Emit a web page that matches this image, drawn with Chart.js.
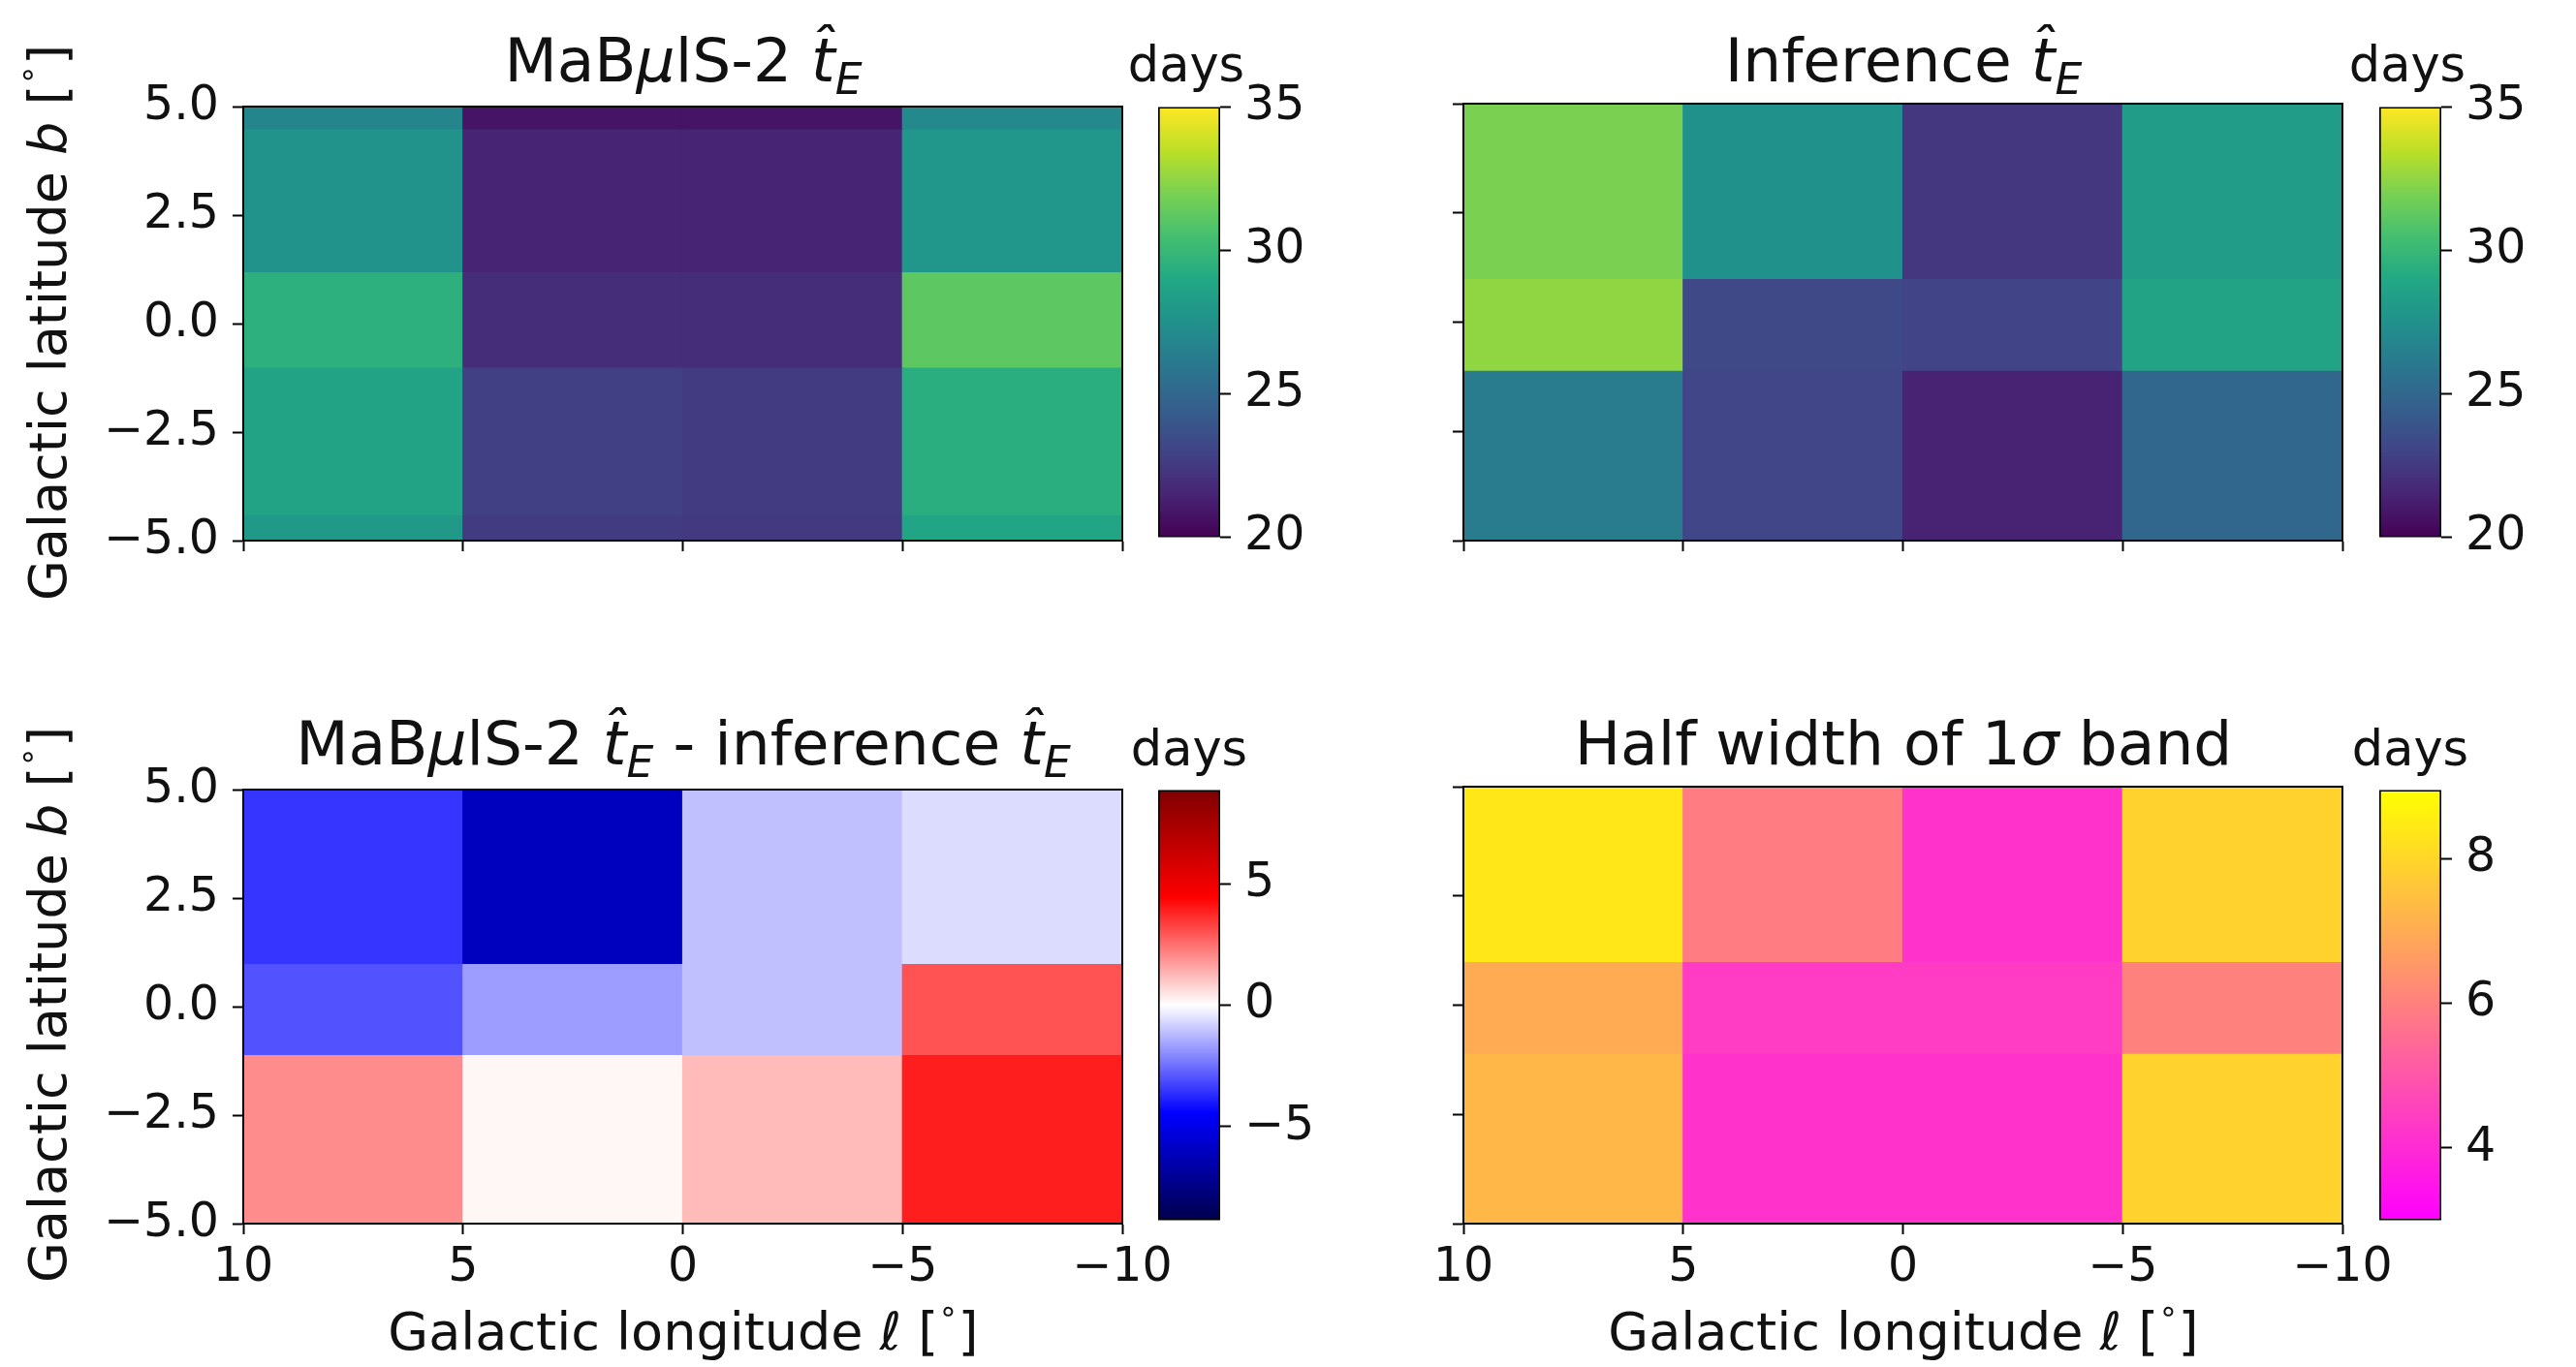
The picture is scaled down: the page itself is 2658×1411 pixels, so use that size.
<!DOCTYPE html>
<html>
<head>
<meta charset="utf-8">
<title>MaBμlS-2 vs inference t_E maps</title>
<script src="https://cdn.jsdelivr.net/npm/chart.js@4.4.1/dist/chart.umd.min.js"></script>
<style>
  body { margin: 0; background: #fff; }
  #fig { position: relative; width: 2658px; height: 1411px; background: #fff; overflow: hidden;
         font-family: "DejaVu Sans", sans-serif; color: #111; }
  #fig canvas { position: absolute; }
  .txt { position: absolute; white-space: nowrap; line-height: 1; transform: translate(-50%, -50%); }
  .title { font-size: 63px; }
  .lab { font-size: 54px; }
  .days { font-size: 51px; }
  .rot { transform: translate(-50%, -50%) rotate(-90deg); }
  .txt sub { font-size: 0.7em; vertical-align: -0.3em; line-height: 0; }
  .txt sup { font-size: 0.6em; vertical-align: 0.9em; line-height: 0; }
</style>
</head>
<body>
<div id="fig">
  <canvas id="hmTL"></canvas><canvas id="cbTL"></canvas>
  <canvas id="hmTR"></canvas><canvas id="cbTR"></canvas>
  <canvas id="hmBL"></canvas><canvas id="cbBL"></canvas>
  <canvas id="hmBR"></canvas><canvas id="cbBR"></canvas>

  <div class="txt title" style="left:705px;top:62px">MaB<i>μ</i>lS-2 <i>t&#770;</i><sub><i>E</i></sub></div>
  <div class="txt title" style="left:1964px;top:62px">Inference <i>t&#770;</i><sub><i>E</i></sub></div>
  <div class="txt title" style="left:705px;top:767px">MaB<i>μ</i>lS-2 <i>t&#770;</i><sub><i>E</i></sub> - inference <i>t&#770;</i><sub><i>E</i></sub></div>
  <div class="txt title" style="left:1964px;top:767px">Half width of 1<i>σ</i> band</div>

  <div class="txt days" style="left:1224px;top:66px">days</div>
  <div class="txt days" style="left:2484px;top:66px">days</div>
  <div class="txt days" style="left:1227px;top:772px">days</div>
  <div class="txt days" style="left:2487px;top:772px">days</div>

  <div class="txt lab rot" style="left:50px;top:333px">Galactic latitude <i>b</i> [<sup>∘</sup>]</div>
  <div class="txt lab rot" style="left:50px;top:1037px">Galactic latitude <i>b</i> [<sup>∘</sup>]</div>
  <div class="txt lab" style="left:705px;top:1375px">Galactic longitude <i>ℓ</i> [<sup>∘</sup>]</div>
  <div class="txt lab" style="left:1964px;top:1375px">Galactic longitude <i>ℓ</i> [<sup>∘</sup>]</div>
</div>

<script>
// Bin edges in degrees (longitude runs 10 -> -10 left to right)
const lonEdges = [10, 5, 0, -5, -10];
const latEdges = [5, 1.0, -1.1, -5];
// the MaBμlS-2 map is sampled finer in latitude
const latEdgesModel = [5, 4.5, 1.2, -1.0, -4.4, -5];

// Cell values, rows top -> bottom, columns l = 10 -> -10
const modelTE = [
  [26.8, 20.8, 20.8, 27.0],
  [27.6, 21.5, 21.5, 27.8],
  [29.5, 21.9, 21.9, 31.2],
  [28.7, 22.8, 22.6, 29.4],
  [28.0, 22.6, 22.5, 28.8],
];
const inferTE = [
  [32.0, 27.5, 22.4, 28.2],
  [32.5, 23.3, 23.0, 28.7],
  [26.2, 23.1, 21.4, 25.0],
];
const diffTE = [
  [-3.5, -6.0, -1.1, -0.6],
  [-3.0, -1.7, -1.1, 3.0],
  [2.0, 0.15, 1.2, 3.9],
];
const halfWidth = [
  [8.4, 5.9, 4.2, 7.9],
  [7.0, 4.4, 4.4, 6.0],
  [7.3, 4.2, 4.2, 7.9],
];

// Tick labels
const tickLon = [10, 5, 0, -5, -10];
const tickLat = [5, 2.5, 0, -2.5, -5];
const ticksTE = [20, 25, 30, 35];
const ticksDiff = [-5, 0, 5];
const ticksWidth = [4, 6, 8];

// Colour ranges
const rangeTE = [20, 35];
const rangeDiff = [-8.85, 8.85];
const rangeWidth = [3.0, 8.95];

// Colormaps
const viridis = ["#440154", "#482475", "#414487", "#355f8d", "#2a788e", "#21918c",
  "#22a884", "#44bf70", "#7ad151", "#bddf26", "#fde725"];
const seismic = ["#00004c", "#0000ff", "#ffffff", "#ff0000", "#7f0000"];
const spring = ["#ff00ff", "#ffff00"];

// Figure geometry (px)
const colLeft = [251, 1510];
const rowTop = [107, 812];
const axW = 907, axH = 451;
const cbLeft = [1195, 2455], cbW = 64;
const yAxisW = 200, xAxisH = 100, padTop = 40, padRight = 70;

Chart.defaults.font.family = "'DejaVu Sans', sans-serif";
Chart.defaults.font.size = 49;
Chart.defaults.color = "#111";

function hexToRgb(h) {
  return [1, 3, 5].map(i => parseInt(h.slice(i, i + 2), 16));
}

function colorAt(stops, t) {
  t = Math.min(1, Math.max(0, t));
  const p = t * (stops.length - 1);
  const i = Math.min(stops.length - 2, Math.floor(p));
  const f = p - i;
  const a = hexToRgb(stops[i]), b = hexToRgb(stops[i + 1]);
  const c = a.map((v, k) => Math.round(v + (b[k] - v) * f));
  return `rgb(${c[0]},${c[1]},${c[2]})`;
}

const minus = v => (v < 0 ? "\u2212" : "") + Math.abs(v);
const fmtLat = v => (v < 0 ? "\u2212" : "") + Math.abs(v).toFixed(1);

const panels = [
  { id: "TL", col: 0, row: 0, values: modelTE, lat: latEdgesModel, cmap: viridis, range: rangeTE, cbTicks: ticksTE },
  { id: "TR", col: 1, row: 0, values: inferTE, lat: latEdges, cmap: viridis, range: rangeTE, cbTicks: ticksTE },
  { id: "BL", col: 0, row: 1, values: diffTE, lat: latEdges, cmap: seismic, range: rangeDiff, cbTicks: ticksDiff },
  { id: "BR", col: 1, row: 1, values: halfWidth, lat: latEdges, cmap: spring, range: rangeWidth, cbTicks: ticksWidth },
];

const frame = { display: true, color: "#000", width: 2, z: 1 };
const tickMarks = { drawOnChartArea: false, tickLength: 11, tickWidth: 2, tickColor: "#000" };

function makeHeatmap(p) {
  const canvas = document.getElementById("hm" + p.id);
  canvas.width = yAxisW + axW + padRight;
  canvas.height = padTop + axH + xAxisH;
  canvas.style.left = (colLeft[p.col] - yAxisW) + "px";
  canvas.style.top = (rowTop[p.row] - padTop) + "px";

  // one floating-bar dataset per latitude row
  const datasets = p.values.map((row, r) => ({
    data: row.map((v, c) => ({
      x: (lonEdges[c] + lonEdges[c + 1]) / 2,
      y: [p.lat[r + 1], p.lat[r]],
      v: v,
    })),
    backgroundColor: ctx => ctx.raw
      ? colorAt(p.cmap, (ctx.raw.v - p.range[0]) / (p.range[1] - p.range[0]))
      : "transparent",
    borderWidth: 0,
    grouped: false,
    barPercentage: 1,
    categoryPercentage: 1,
    inflateAmount: 0.6,
  }));

  return new Chart(canvas.getContext("2d"), {
    type: "bar",
    data: { datasets },
    options: {
      responsive: false,
      animation: false,
      events: [],
      layout: { autoPadding: false, padding: { top: padTop, right: padRight, left: 0, bottom: 0 } },
      plugins: { legend: { display: false }, tooltip: { enabled: false } },
      scales: {
        x: {
          type: "linear", min: -10, max: 10, reverse: true, offset: false,
          afterBuildTicks: s => { s.ticks = tickLon.map(value => ({ value })); },
          afterFit: s => { s.height = xAxisH; },
          ticks: { display: p.row === 1, padding: 6, maxRotation: 0, autoSkip: false, callback: minus },
          grid: { ...tickMarks, offset: false },
          border: frame,
        },
        y: {
          type: "linear", min: -5, max: 5, position: "left",
          afterBuildTicks: s => { s.ticks = tickLat.map(value => ({ value })); },
          afterFit: s => { s.width = yAxisW; },
          ticks: { display: p.col === 0, padding: 14, autoSkip: false, callback: fmtLat },
          grid: tickMarks,
          border: frame,
        },
        x2: {
          type: "linear", position: "top", min: -10, max: 10, offset: false,
          afterFit: s => { s.height = 0; },
          ticks: { display: false }, grid: { display: false }, border: frame,
        },
        y2: {
          type: "linear", position: "right", min: -5, max: 5,
          afterFit: s => { s.width = 0; },
          ticks: { display: false }, grid: { display: false }, border: frame,
        },
      },
    },
  });
}

function makeColorbar(p) {
  const canvas = document.getElementById("cb" + p.id);
  const padL = 10, axisW = 150, padV = 40;
  canvas.width = padL + cbW + axisW;
  canvas.height = padV + axH + padV;
  canvas.style.left = (cbLeft[p.col] - padL) + "px";
  canvas.style.top = (rowTop[p.row] - padV) + "px";

  return new Chart(canvas.getContext("2d"), {
    type: "bar",
    data: {
      labels: ["days"],
      datasets: [{
        data: [[p.range[0], p.range[1]]],
        backgroundColor: ctx => {
          const area = ctx.chart.chartArea;
          if (!area) return "transparent";
          const g = ctx.chart.ctx.createLinearGradient(0, area.bottom, 0, area.top);
          p.cmap.forEach((c, i) => g.addColorStop(i / (p.cmap.length - 1), c));
          return g;
        },
        borderColor: "#000",
        borderWidth: 2,
        borderSkipped: false,
        barPercentage: 1,
        categoryPercentage: 1,
      }],
    },
    options: {
      responsive: false,
      animation: false,
      events: [],
      layout: { autoPadding: false, padding: { top: padV, bottom: padV, left: padL, right: 0 } },
      plugins: { legend: { display: false }, tooltip: { enabled: false } },
      scales: {
        x: { display: false },
        y: {
          type: "linear", position: "right", min: p.range[0], max: p.range[1],
          afterBuildTicks: s => { s.ticks = p.cbTicks.map(value => ({ value })); },
          afterFit: s => { s.width = axisW; },
          ticks: { padding: 14, autoSkip: false, callback: minus },
          grid: { drawOnChartArea: false, tickLength: 11, tickWidth: 2, tickColor: "#000" },
          border: { display: false },
        },
      },
    },
  });
}

window.addEventListener("DOMContentLoaded", () => {
  panels.forEach(p => {
    makeHeatmap(p);
    makeColorbar(p);
  });
});
</script>
</body>
</html>
